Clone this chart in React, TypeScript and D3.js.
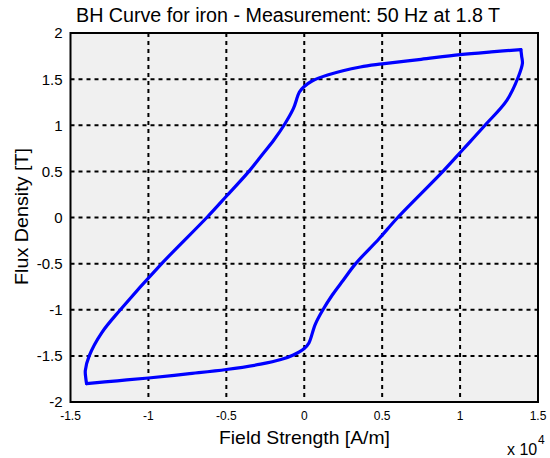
import React from 'react';
import * as d3 from 'd3';

// descending branch: from the positive tip back to the negative tip (H in 1e4 A/m, B in T)
const descH = [1.39, 1.2, 1.0, 0.75, 0.5, 0.36, 0.15, 0.05, 0.0, -0.031, -0.07, -0.13, -0.195, -0.27, -0.355, -0.5, -0.625, -0.915, -1.18, -1.3, -1.38, -1.405, -1.402, -1.397];
const descB = [1.82, 1.795, 1.765, 1.715, 1.665, 1.632, 1.545, 1.48, 1.42, 1.36, 1.18, 1.0, 0.84, 0.68, 0.5, 0.23, 0.0, -0.5, -1.0, -1.25, -1.5, -1.66, -1.74, -1.8];

// ascending branch: from the negative tip up to the positive tip
const ascH = [-1.397, -1.2, -1.0, -0.75, -0.5, -0.28, -0.15, -0.07, 0.0, 0.03, 0.07, 0.12, 0.18, 0.25, 0.33, 0.48, 0.6, 0.89, 1.02, 1.16, 1.3, 1.374, 1.4, 1.395, 1.39];
const ascB = [-1.8, -1.77, -1.74, -1.695, -1.648, -1.59, -1.54, -1.49, -1.42, -1.36, -1.16, -1.0, -0.84, -0.68, -0.5, -0.23, 0.0, 0.5, 0.74, 1.0, 1.27, 1.526, 1.67, 1.75, 1.82];

const xTicks = [-1.5, -1, -0.5, 0, 0.5, 1, 1.5];
const yTicks = [-2, -1.5, -1, -0.5, 0, 0.5, 1, 1.5, 2];

const font = '"Liberation Sans", Arial, Helvetica, sans-serif';

export default function App() {
    const width = 550, height = 458;
    const m = {left: 70.5, right: 538, top: 33, bottom: 402};

    const x = d3.scaleLinear().domain([-1.5, 1.5]).range([m.left, m.right]);
    const y = d3.scaleLinear().domain([-2, 2]).range([m.bottom, m.top]);

    const line = d3.line<[number, number]>()
        .x(d => x(d[0]))
        .y(d => y(d[1]))
        .curve(d3.curveCatmullRom);

    const desc = descH.map((h, i) => [h, descB[i]] as [number, number]);
    const asc = ascH.map((h, i) => [h, ascB[i]] as [number, number]);

    return (
        <svg width={width} height={height} style={{position: 'absolute', left: 0, top: 0, background: '#fff'}}>
            <rect x={m.left} y={m.top} width={m.right - m.left} height={m.bottom - m.top} fill="#f0f0f0" />

            {/* grid */}
            <g stroke="#000" strokeWidth={2} strokeDasharray="4,4">
                {xTicks.slice(1, -1).map(t =>
                    <line key={'gx' + t} x1={x(t)} x2={x(t)} y1={m.top} y2={m.bottom} />
                )}
                {yTicks.slice(1, -1).map(t =>
                    <line key={'gy' + t} x1={m.left} x2={m.right} y1={y(t)} y2={y(t)} />
                )}
            </g>

            {/* curve */}
            <g fill="none" stroke="#0000ff" strokeWidth={3.2} strokeLinejoin="round" strokeLinecap="round">
                <path d={line(desc) || ''} />
                <path d={line(asc) || ''} />
            </g>

            <rect x={m.left} y={m.top} width={m.right - m.left} height={m.bottom - m.top} fill="none" stroke="#000" strokeWidth={2} />

            {/* tick labels */}
            <g fontFamily={font} fontSize={12} textAnchor="middle" fill="#000">
                {xTicks.map(t =>
                    <text key={'tx' + t} x={x(t)} y={420}>{t}</text>
                )}
            </g>
            <g fontFamily={font} fontSize={15} textAnchor="end" fill="#000">
                {yTicks.map(t =>
                    <text key={'ty' + t} x={m.left - 8} y={y(t)} dy="0.36em">{t}</text>
                )}
            </g>

            <text x={76} y={22} fontFamily={font} fontSize={20} textLength={424} lengthAdjust="spacingAndGlyphs">
                BH Curve for iron - Measurement: 50 Hz at 1.8 T
            </text>
            <text x={219} y={444} fontFamily={font} fontSize={19} textLength={171} lengthAdjust="spacingAndGlyphs">
                Field Strength [A/m]
            </text>
            <text transform={`translate(28, 285) rotate(-90)`} fontFamily={font} fontSize={19} textLength={137} lengthAdjust="spacingAndGlyphs">
                Flux Density [T]
            </text>
            <text x={507} y={455} fontFamily={font} fontSize={16}>x 10</text>
            <text x={538} y={444} fontFamily={font} fontSize={12}>4</text>
        </svg>
    );
}
